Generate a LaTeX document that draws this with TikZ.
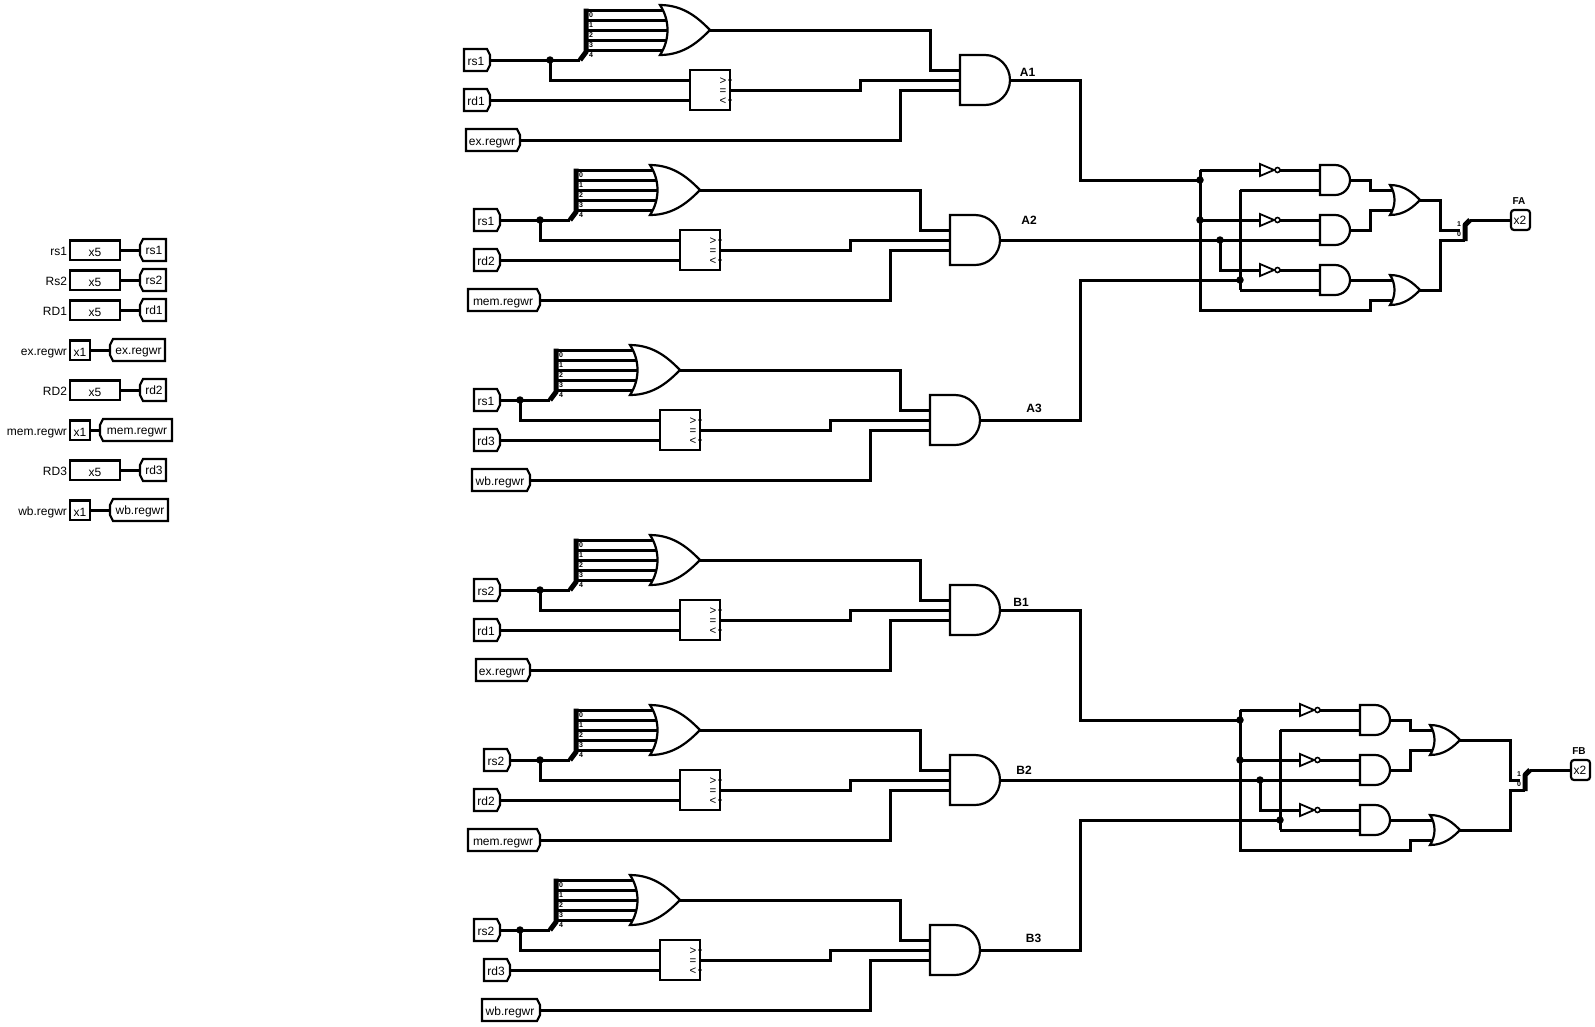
\documentclass[tikz,border=0pt]{standalone}
\usepackage{fontspec}
\setmainfont{Liberation Sans}
\tikzset{
  wire/.style={line width=3pt,line join=miter},
  outl/.style={line width=2.2pt,line join=miter,fill=white},
  bus/.style={line width=5pt,line join=bevel},
  txt/.style={inner sep=0pt,outer sep=0pt,font=\fontsize{12}{14}\selectfont},
  lbl/.style={inner sep=0pt,outer sep=0pt,font=\fontsize{12}{14}\selectfont\bfseries},
  lbs/.style={inner sep=0pt,outer sep=0pt,font=\fontsize{10}{12}\selectfont\bfseries},
  tiny/.style={inner sep=0pt,outer sep=0pt,font=\fontsize{7}{8}\selectfont\bfseries},
  cmpg/.style={inner sep=0pt,outer sep=0pt,font=\fontsize{11.5}{13}\selectfont},
  dot/.style={circle,fill=black,inner sep=0pt,minimum size=7.5pt}
}
% input pin: name, left, tip, y, text
\newcommand{\inpin}[5]{%
  \draw[outl] (#2,{#4-11}) -- ({#3-3},{#4-11}) -- (#3,{#4-5}) -- (#3,{#4+5}) -- ({#3-3},{#4+11}) -- (#2,{#4+11}) -- cycle;
  \node[txt,anchor=base] (#1) at ({(#2+#3)/2-1},{#4+5}) {#5};
  \coordinate (#1-tip) at (#3,#4);
}
% tunnel (tip on the left): name, tip, right, y, text
\newcommand{\tunl}[5]{%
  \draw[outl] ({#2+3},{#4-11}) -- (#3,{#4-11}) -- (#3,{#4+11}) -- ({#2+3},{#4+11}) -- (#2,{#4+5}) -- (#2,{#4-5}) -- cycle;
  \node[txt,anchor=base] (#1) at ({(#2+#3)/2+1},{#4+4}) {#5};
  \coordinate (#1-tip) at (#2,#4);
}
% AND gate: name, left x, centre y, scale
\newcommand{\andg}[4]{%
  \begin{scope}[shift={(#2,#3)},scale=#4]
    \draw[outl] (0,-25) -- (25,-25) .. controls (38.8,-25) and (50,-13.8) .. (50,0) .. controls (50,13.8) and (38.8,25) .. (25,25) -- (0,25) -- cycle;
  \end{scope}
  \coordinate (#1-a) at (#2,{#3-10});
  \coordinate (#1-b) at (#2,#3);
  \coordinate (#1-c) at (#2,{#3+10});
  \coordinate (#1-o) at ({#2+50*#4},#3);
}
% OR gate: name, left x, centre y, scale
\newcommand{\org}[4]{%
  \begin{scope}[shift={(#2,#3)},scale=#4]
    \draw[outl] (0,-25) .. controls (25,-25) and (40,-10) .. (50,0) .. controls (40,10) and (25,25) .. (0,25) .. controls (10,10) and (10,-10) .. (0,-25) -- cycle;
  \end{scope}
  \coordinate (#1-o) at ({#2+50*#4},#3);
}
% inverter: name, x, y
\newcommand{\invg}[3]{%
  \draw[line width=1.8pt,fill=white,line join=miter] (#2,{#3-6}) -- ({#2+14},#3) -- (#2,{#3+6}) -- cycle;
  \draw[line width=1.6pt,fill=white] ({#2+17.5},#3) circle[radius=2.5pt];
  \coordinate (#1-i) at (#2,#3);
  \coordinate (#1-o) at ({#2+20},#3);
}
% one comparison block: name, dx, dy, first pin, second pin, third pin
\newcommand{\blockc}[6]{%
  \begin{scope}[shift={(#2,#3)}]
    \coordinate (#1-j) at (550,60);
    \coordinate (#1-s) at (580,60);
    \coordinate (#1-t) at (586,52);
    \coordinate (#1-u) at (586,8.7);
    \coordinate (#1-c1) at (690,80);
    \coordinate (#1-c2) at (690,100);
    \coordinate (#1-co) at (730,90);
    \coordinate (#1-r1) at (930,70);
    \coordinate (#1-r2) at (860,80);
    \coordinate (#1-r3) at (900,90);
    \coordinate (#1-f0) at (586,10);
    \coordinate (#1-f1) at (586,20);
    \coordinate (#1-f2) at (586,30);
    \coordinate (#1-f3) at (586,40);
    \coordinate (#1-f4) at (586,50);
    \coordinate (#1-g0) at (663,10);
    \coordinate (#1-g1) at (666,20);
    \coordinate (#1-g2) at (668,30);
    \coordinate (#1-g3) at (666,40);
    \coordinate (#1-g4) at (663,50);
    \draw[wire] (#4-tip) -- (#1-s);
    \draw[wire] (#1-j) |- (#1-c1);
    \draw[wire] (#5-tip) -- (#1-c2);
    \foreach \i in {0,...,4}{
      \draw[wire] (#1-f\i) -- (#1-g\i);
      \node[tiny] (#1-d\i) at ({591},{14.6+10*\i}) {\i};
    }
    \draw[bus] (#1-s) -- (#1-t) -- (#1-u);
    \org{#1-or}{660}{30}{1}
    \node[dot] (#1-dot) at (#1-j) {};
    \draw[outl] (690,70) rectangle (730,110);
    \fill (730,80) circle[radius=1.8pt];
    \fill (730,100) circle[radius=1.8pt];
    \node[cmpg,anchor=base] (#1-gt) at (723,84) {>};
    \node[cmpg,anchor=base] (#1-eq) at (723,94) {=};
    \node[cmpg,anchor=base] (#1-lt) at (723,104) {<};
    \andg{#1-and}{960}{80}{1}
    \draw[wire] (#1-or-o) -| (#1-r1) -- (#1-and-a);
    \draw[wire] (#1-co) -| (#1-r2) -- (#1-and-b);
    \draw[wire] (#6-tip) -| (#1-r3) -- (#1-and-c);
  \end{scope}
}
% decision logic: name, dx, dy, upper input, middle input, lower input
\newcommand{\logicb}[6]{%
  \begin{scope}[shift={(#2,#3)}]
    \coordinate (#1-j1) at (1200,180);
    \coordinate (#1-j2) at (1200,220);
    \coordinate (#1-j3) at (1220,240);
    \coordinate (#1-j4) at (1240,280);
    \coordinate (#1-v1) at (1200,170);
    \coordinate (#1-v2) at (1200,310);
    \coordinate (#1-v3) at (1370,310);
    \coordinate (#1-w1) at (1240,190);
    \coordinate (#1-w2) at (1240,290);
    \coordinate (#1-x1) at (1220,270);
    \coordinate (#1-y1) at (1370,180);
    \coordinate (#1-y2) at (1370,230);
    \coordinate (#1-z1) at (1392,190);
    \coordinate (#1-z2) at (1392,210);
    \coordinate (#1-z3) at (1392,280);
    \coordinate (#1-z4) at (1392,300);
    \coordinate (#1-zy1) at (1370,190);
    \coordinate (#1-zy2) at (1370,210);
    \coordinate (#1-zy4) at (1370,300);
    \invg{#1-n1}{1260}{170}
    \invg{#1-n2}{1260}{220}
    \invg{#1-n3}{1260}{270}
    \andg{#1-a1}{1320}{180}{0.6}
    \andg{#1-a2}{1320}{230}{0.6}
    \andg{#1-a3}{1320}{280}{0.6}
    \draw[wire] (#1-v1) -- (#1-n1-i);
    \draw[wire] (#1-v1) -- (#1-v2) -- (#1-v3) -- (#1-zy4) -- (#1-z4);
    \draw[wire] (#1-j2) -- (#1-n2-i);
    \draw[wire] (#1-j3) -- (#1-x1) -- (#1-n3-i);
    \draw[wire] (#1-w1) -- (#1-w2);
    \draw[wire] (#1-w1) -- (#1-a1-c);
    \draw[wire] (#1-w2) -- (#1-a3-c);
    \draw[wire] (#1-n1-o) -- (#1-a1-a);
    \draw[wire] (#1-n2-o) -- (#1-a2-a);
    \draw[wire] (#1-n3-o) -- (#1-a3-a);
    \draw[wire] (#1-a1-o) -- (#1-y1) -- (#1-zy1) -- (#1-z1);
    \draw[wire] (#1-a2-o) -- (#1-y2) -- (#1-zy2) -- (#1-z2);
    \draw[wire] (#1-a3-o) -- (#1-z3);
    \org{#1-o1}{1390}{200}{0.6}
    \org{#1-o2}{1390}{290}{0.6}
    \coordinate (#1-p1) at ({1080-#2},180);
    \draw[wire] (#4) -| (#1-p1) -- (#1-j1);
    \draw[wire] (#5) -- (#1-a2-c);
    \coordinate (#1-p3) at ({1080-#2},280);
    \draw[wire] (#6) -| (#1-p3) -- (#1-j4);
    \node[dot] (#1-d1) at (#1-j1) {};
    \node[dot] (#1-d2) at (#1-j2) {};
    \node[dot] (#1-d3) at (#1-j3) {};
    \node[dot] (#1-d4) at (#1-j4) {};
  \end{scope}
}
\begin{document}
\begin{tikzpicture}[x=1pt,y=-1pt]
\fill[white] (0,0) rectangle (1595,1026);
\useasboundingbox (0,0) rectangle (1595,1026);

% ---- tunnels panel
\newcommand{\rowfive}[4]{%
  \node[txt,anchor=base east] (#1-l) at (67,{#2+5}) {#3};
  \draw[outl] (70,{#2-9.5}) rectangle (120,{#2+10});
  \node[txt,anchor=base] (#1-x) at (95,{#2+6.5}) {x5};
  \coordinate (#1-b) at (120,#2);
  \tunl{#1-t}{140}{166}{#2}{#4}
  \draw[wire] (#1-b) -- (#1-t-tip);
}
\newcommand{\rowone}[5]{%
  \node[txt,anchor=base east] (#1-l) at (67,{#2+5}) {#3};
  \draw[outl] (70,{#2-9.5}) rectangle (90,{#2+10});
  \node[txt,anchor=base] (#1-x) at (80,{#2+6.5}) {x1};
  \coordinate (#1-b) at (90,#2);
  \tunl{#1-t}{#4}{#5}{#2}{#3}
  \draw[wire] (#1-b) -- (#1-t-tip);
}
\rowfive{t1}{250}{rs1}{rs1}
\rowfive{t2}{280}{Rs2}{rs2}
\rowfive{t3}{310}{RD1}{rd1}
\rowone{t4}{350}{ex.regwr}{110}{165}
\rowfive{t5}{390}{RD2}{rd2}
\rowone{t6}{430}{mem.regwr}{100}{172}
\rowfive{t7}{470}{RD3}{rd3}
\rowone{t8}{510}{wb.regwr}{110}{168}

% ---- input pins
\inpin{pa1}{464}{490}{60}{rs1}
\inpin{pa2}{464}{490}{100}{rd1}
\inpin{pa3}{466}{520}{140}{ex.regwr}
\inpin{pb1}{474}{500}{220}{rs1}
\inpin{pb2}{474}{500}{260}{rd2}
\inpin{pb3}{468}{540}{300}{mem.regwr}
\inpin{pc1}{474}{500}{400}{rs1}
\inpin{pc2}{474}{500}{440}{rd3}
\inpin{pc3}{472}{530}{480}{wb.regwr}
\inpin{pd1}{474}{500}{590}{rs2}
\inpin{pd2}{474}{500}{630}{rd1}
\inpin{pd3}{476}{530}{670}{ex.regwr}
\inpin{pe1}{484}{510}{760}{rs2}
\inpin{pe2}{474}{500}{800}{rd2}
\inpin{pe3}{468}{540}{840}{mem.regwr}
\inpin{pf1}{474}{500}{930}{rs2}
\inpin{pf2}{484}{510}{970}{rd3}
\inpin{pf3}{482}{540}{1010}{wb.regwr}

% ---- comparison blocks
\blockc{A1}{0}{0}{pa1}{pa2}{pa3}
\blockc{A2}{-10}{160}{pb1}{pb2}{pb3}
\blockc{A3}{-30}{340}{pc1}{pc2}{pc3}
\blockc{B1}{-10}{530}{pd1}{pd2}{pd3}
\blockc{B2}{-10}{700}{pe1}{pe2}{pe3}
\blockc{B3}{-30}{870}{pf1}{pf2}{pf3}

\node[lbl,anchor=base] (lA1) at (1027.5,76.7) {A1};
\node[lbl,anchor=base] (lA2) at (1029,224.5) {A2};
\node[lbl,anchor=base] (lA3) at (1034,412) {A3};
\node[lbl,anchor=base] (lB1) at (1021,606.6) {B1};
\node[lbl,anchor=base] (lB2) at (1024,774.8) {B2};
\node[lbl,anchor=base] (lB3) at (1033.5,942) {B3};

% ---- decision logic
\logicb{FA}{0}{0}{A1-and-o}{A2-and-o}{A3-and-o}
\logicb{FB}{40}{540}{B1-and-o}{B2-and-o}{B3-and-o}

% ---- output FA
\coordinate (FAr1) at (1440,230);
\coordinate (FAr2) at (1440,240);
\coordinate (FAs1) at (1460,230);
\coordinate (FAs2) at (1465,240);
\coordinate (FAb0) at (1465,241);
\coordinate (FAb1) at (1465,225);
\coordinate (FAb2) at (1470,220);
\draw[wire] (FA-o1-o) -| (FAr1) -- (FAs1);
\draw[wire] (FA-o2-o) -| (FAr2) -- (FAs2);
\draw[bus] (FAb0) -- (FAb1) -- (FAb2);
\node[tiny] (FAl1) at (1459,224.5) {1};
\node[tiny] (FAl0) at (1459,234.5) {0};
\draw[outl,rounded corners=3pt] (1511,210) rectangle (1530,230);
\node[txt,anchor=base] (FAx) at (1520,224.5) {x2};
\coordinate (FAp) at (1511,220);
\draw[wire] (FAb2) -- (FAp);
\node[lbs,anchor=base] (FAn) at (1519,204) {FA};

% ---- output FB
\coordinate (FBr1) at (1510,780);
\coordinate (FBr2) at (1510,790);
\coordinate (FBs1) at (1520,780);
\coordinate (FBs2) at (1525,790);
\coordinate (FBb0) at (1525,791);
\coordinate (FBb1) at (1525,775);
\coordinate (FBb2) at (1530,770);
\draw[wire] (FB-o1-o) -| (FBr1) -- (FBs1);
\draw[wire] (FB-o2-o) -| (FBr2) -- (FBs2);
\draw[bus] (FBb0) -- (FBb1) -- (FBb2);
\node[tiny] (FBl1) at (1519,774.5) {1};
\node[tiny] (FBl0) at (1519,784.5) {0};
\draw[outl,rounded corners=3pt] (1571,760) rectangle (1590,780);
\node[txt,anchor=base] (FBx) at (1580,774.5) {x2};
\coordinate (FBp) at (1571,770);
\draw[wire] (FBb2) -- (FBp);
\node[lbs,anchor=base] (FBn) at (1579,754) {FB};
\end{tikzpicture}
\end{document}
